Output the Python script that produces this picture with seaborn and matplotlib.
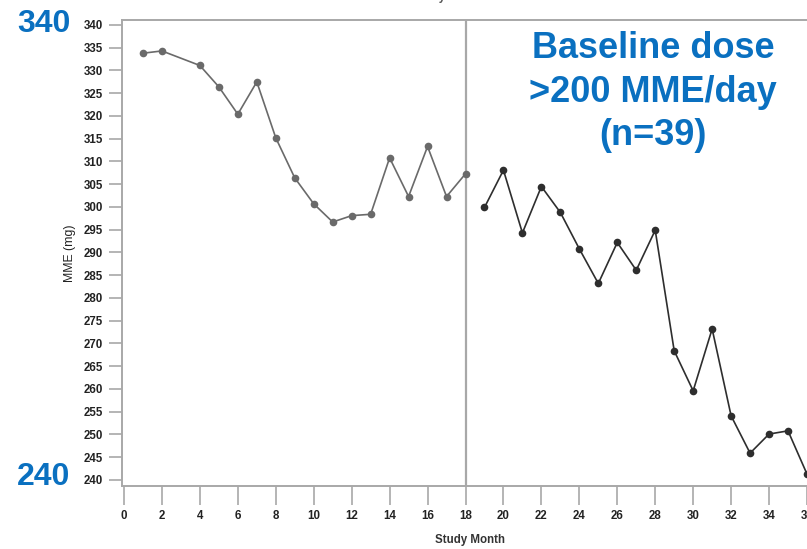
import matplotlib
matplotlib.use("Agg")
import matplotlib.pyplot as plt
import seaborn as sns
import pandas as pd

# Mean MME by study month, first and second 18-month periods
months_a = [1, 2, 4, 5, 6, 7, 8, 9, 10, 11, 12, 13, 14, 15, 16, 17, 18]
mme_a = [333.8, 334.3, 331.1, 326.4, 320.4, 327.5, 315.2, 306.4, 300.7,
         296.7, 298.1, 298.4, 310.8, 302.3, 313.3, 302.3, 307.3]
months_b = [19, 20, 21, 22, 23, 24, 25, 26, 27, 28, 29, 30, 31, 32, 33, 34, 35, 36]
mme_b = [299.9, 308.1, 294.3, 304.5, 298.8, 290.8, 283.2, 292.2, 286.1,
         294.9, 268.4, 259.6, 273.2, 254.1, 245.9, 250.1, 250.8, 241.3]
x_ticks = list(range(0, 37, 2))
y_ticks = list(range(240, 341, 5))

df = pd.DataFrame({
    "month": months_a + months_b,
    "mme": mme_a + mme_b,
    "phase": ["a"] * len(months_a) + ["b"] * len(months_b),
})

sns.set_style("white")
plt.rcParams["font.family"] = ["Liberation Sans", "DejaVu Sans"]

W, H = 807, 549
fig = plt.figure(figsize=(W / 100, H / 100), dpi=100)
x0, x1 = -0.1, 36.6
px_per = (807 - 124) / 36.0
left_px = 124 + x0 * px_per
right_px = 124 + x1 * px_per
ax = fig.add_axes([left_px / W, (H - 486) / H, (right_px - left_px) / W, (486 - 20) / H])

sns.lineplot(data=df, x="month", y="mme", hue="phase",
             palette={"a": "#6a6a6a", "b": "#2e2e2e"},
             marker="o", markersize=5.5, markeredgewidth=0, linewidth=1.2,
             legend=False, ax=ax, clip_on=False)

ax.axvline(18, color="#a8a8a8", linewidth=1.6, zorder=0)

ax.set_xlim(x0, x1)
ax.set_ylim(240 - 6 / 4.55, 340 + 5 / 4.55)
ax.set_xticks(x_ticks)
ax.set_yticks(y_ticks)
ax.tick_params(axis="both", which="major", bottom=True, left=True,
               direction="out", width=1.1, color="#a0a0a0",
               labelsize=8.3, labelcolor="#222222")
ax.tick_params(axis="x", length=14, pad=3)
ax.tick_params(axis="y", length=9.5, pad=4)
for lab in ax.get_xticklabels() + ax.get_yticklabels():
    lab.set_fontweight("bold")

for side in ("left", "bottom", "top"):
    ax.spines[side].set_color("#a8a8a8")
    ax.spines[side].set_linewidth(1.4)
ax.spines["right"].set_visible(False)

ax.set_xlabel("Study Month", fontsize=8.3, fontweight="bold", color="#333333", labelpad=9)
ax.set_ylabel("MME (mg)", fontsize=8.8, color="#222222", labelpad=6)

# Faint repeated axis title at the very top edge
fig.text(448 / W, 1.0 + 3 / H, "Study Month", ha="center", va="center",
         fontsize=8.3, fontweight="bold", color="#555555")

blue = "#0a70c0"
fig.text(44 / W, 1 - 24 / H, "340", ha="center", va="center",
         fontsize=23, fontweight="bold", color=blue)
fig.text(44 / W, 1 - 477 / H, "240", ha="center", va="center",
         fontsize=23, fontweight="bold", color=blue)
fig.text(653 / W, 1 - 92 / H, "Baseline dose\n>200 MME/day\n(n=39)",
         ha="center", va="center", fontsize=26, fontweight="bold",
         color=blue, linespacing=1.3)

fig.savefig("out.png", dpi=100)
